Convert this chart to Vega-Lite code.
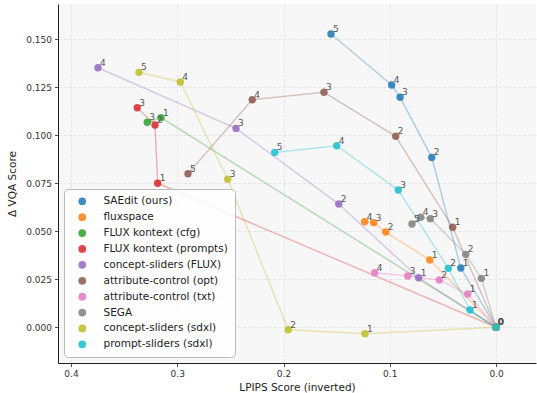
{
  "$schema": "https://vega.github.io/schema/vega-lite/v6.json",
  "autosize": {"type": "none"},
  "padding": {"left": 58, "top": 4, "right": 1, "bottom": 30},
  "width": 478,
  "height": 359,
  "background": "white",
  "config": {
    "font": "DejaVu Sans",
    "view": {"fill": "#f7f7f7", "stroke": null},
    "axis": {
      "grid": true, "gridColor": "#dddddd", "gridDash": [3, 2], "gridWidth": 0.8,
      "domainColor": "#222222", "domainWidth": 1,
      "tickColor": "#222222", "tickSize": 3.5, "tickWidth": 0.8,
      "labelColor": "#333333", "labelFontSize": 9, "labelFont": "DejaVu Sans",
      "titleColor": "#222222", "titleFontSize": 10.5, "titleFontWeight": "normal", "titleFont": "DejaVu Sans"
    },
    "legend": {
      "orient": "bottom-left", "offset": 6, "title": null,
      "fillColor": "rgba(255,255,255,0.85)", "strokeColor": "#bbbbbb", "cornerRadius": 4, "padding": 7,
      "labelFontSize": 10.5, "labelFont": "DejaVu Sans", "labelColor": "#222222",
      "symbolType": "circle", "symbolSize": 60, "symbolOpacity": 0.85, "symbolStrokeWidth": 0,
      "rowPadding": 4.9, "labelOffset": 16, "symbolOffset": 6
    }
  },
  "data": {"values": [
    {"method": "SAEdit (ours)", "step": 0, "lpips": 0.0, "vqa": 0.0},
    {"method": "SAEdit (ours)", "step": 1, "lpips": 0.0332, "vqa": 0.0309},
    {"method": "SAEdit (ours)", "step": 2, "lpips": 0.0605, "vqa": 0.0885},
    {"method": "SAEdit (ours)", "step": 3, "lpips": 0.0903, "vqa": 0.1198},
    {"method": "SAEdit (ours)", "step": 4, "lpips": 0.0982, "vqa": 0.1262},
    {"method": "SAEdit (ours)", "step": 5, "lpips": 0.1553, "vqa": 0.1528},
    {"method": "fluxspace", "step": 0, "lpips": 0.0, "vqa": 0.0},
    {"method": "fluxspace", "step": 1, "lpips": 0.0624, "vqa": 0.0351},
    {"method": "fluxspace", "step": 2, "lpips": 0.1038, "vqa": 0.0496},
    {"method": "fluxspace", "step": 3, "lpips": 0.1151, "vqa": 0.0545},
    {"method": "fluxspace", "step": 4, "lpips": 0.1236, "vqa": 0.0550},
    {"method": "FLUX kontext (cfg)", "step": 0, "lpips": 0.0, "vqa": 0.0},
    {"method": "FLUX kontext (cfg)", "step": 1, "lpips": 0.3153, "vqa": 0.1092},
    {"method": "FLUX kontext (cfg)", "step": 3, "lpips": 0.3282, "vqa": 0.1068},
    {"method": "FLUX kontext (prompts)", "step": 0, "lpips": 0.0, "vqa": 0.0},
    {"method": "FLUX kontext (prompts)", "step": 1, "lpips": 0.3184, "vqa": 0.0750},
    {"method": "FLUX kontext (prompts)", "step": 2, "lpips": 0.3209, "vqa": 0.1054},
    {"method": "FLUX kontext (prompts)", "step": 3, "lpips": 0.3376, "vqa": 0.1144},
    {"method": "concept-sliders (FLUX)", "step": 0, "lpips": 0.0, "vqa": 0.0},
    {"method": "concept-sliders (FLUX)", "step": 1, "lpips": 0.0728, "vqa": 0.0258},
    {"method": "concept-sliders (FLUX)", "step": 2, "lpips": 0.1480, "vqa": 0.0642},
    {"method": "concept-sliders (FLUX)", "step": 3, "lpips": 0.2447, "vqa": 0.1036},
    {"method": "concept-sliders (FLUX)", "step": 4, "lpips": 0.3746, "vqa": 0.1352},
    {"method": "attribute-control (opt)", "step": 0, "lpips": 0.0, "vqa": 0.0},
    {"method": "attribute-control (opt)", "step": 1, "lpips": 0.0408, "vqa": 0.0521},
    {"method": "attribute-control (opt)", "step": 2, "lpips": 0.0944, "vqa": 0.0995},
    {"method": "attribute-control (opt)", "step": 3, "lpips": 0.1619, "vqa": 0.1224},
    {"method": "attribute-control (opt)", "step": 4, "lpips": 0.2294, "vqa": 0.1185},
    {"method": "attribute-control (opt)", "step": 5, "lpips": 0.2899, "vqa": 0.0800},
    {"method": "attribute-control (txt)", "step": 0, "lpips": 0.0, "vqa": 0.0},
    {"method": "attribute-control (txt)", "step": 1, "lpips": 0.0266, "vqa": 0.0173},
    {"method": "attribute-control (txt)", "step": 2, "lpips": 0.0534, "vqa": 0.0246},
    {"method": "attribute-control (txt)", "step": 3, "lpips": 0.0831, "vqa": 0.0267},
    {"method": "attribute-control (txt)", "step": 4, "lpips": 0.1142, "vqa": 0.0284},
    {"method": "SEGA", "step": 0, "lpips": 0.0, "vqa": 0.0},
    {"method": "SEGA", "step": 1, "lpips": 0.0138, "vqa": 0.0255},
    {"method": "SEGA", "step": 2, "lpips": 0.0285, "vqa": 0.0380},
    {"method": "SEGA", "step": 3, "lpips": 0.0618, "vqa": 0.0566},
    {"method": "SEGA", "step": 4, "lpips": 0.0709, "vqa": 0.0573},
    {"method": "SEGA", "step": 5, "lpips": 0.0791, "vqa": 0.0538},
    {"method": "concept-sliders (sdxl)", "step": 0, "lpips": 0.0, "vqa": 0.0},
    {"method": "concept-sliders (sdxl)", "step": 1, "lpips": 0.1233, "vqa": -0.0033},
    {"method": "concept-sliders (sdxl)", "step": 2, "lpips": 0.1955, "vqa": -0.0013},
    {"method": "concept-sliders (sdxl)", "step": 3, "lpips": 0.2525, "vqa": 0.0771},
    {"method": "concept-sliders (sdxl)", "step": 4, "lpips": 0.2971, "vqa": 0.1278},
    {"method": "concept-sliders (sdxl)", "step": 5, "lpips": 0.3360, "vqa": 0.1328},
    {"method": "prompt-sliders (sdxl)", "step": 0, "lpips": 0.0, "vqa": 0.0},
    {"method": "prompt-sliders (sdxl)", "step": 1, "lpips": 0.0245, "vqa": 0.0090},
    {"method": "prompt-sliders (sdxl)", "step": 2, "lpips": 0.0449, "vqa": 0.0307},
    {"method": "prompt-sliders (sdxl)", "step": 3, "lpips": 0.0920, "vqa": 0.0715},
    {"method": "prompt-sliders (sdxl)", "step": 4, "lpips": 0.1499, "vqa": 0.0946},
    {"method": "prompt-sliders (sdxl)", "step": 5, "lpips": 0.2083, "vqa": 0.0911}
  ]},
  "encoding": {
    "x": {"field": "lpips", "type": "quantitative", "title": "LPIPS Score (inverted)",
      "scale": {"domain": [-0.0376, 0.4122], "reverse": true, "nice": false, "zero": false},
      "axis": {"values": [0.4, 0.3, 0.2, 0.1, 0.0], "format": ".1f", "labelPadding": 3, "titlePadding": 4}},
    "y": {"field": "vqa", "type": "quantitative", "title": "Δ VQA Score",
      "scale": {"domain": [-0.0186, 0.1684], "nice": false, "zero": false},
      "axis": {"values": [0, 0.025, 0.05, 0.075, 0.1, 0.125, 0.15], "format": ".3f", "labelPadding": 3, "titlePadding": 8}},
    "color": {"field": "method", "type": "nominal",
      "scale": {
        "domain": ["SAEdit (ours)", "fluxspace", "FLUX kontext (cfg)", "FLUX kontext (prompts)", "concept-sliders (FLUX)", "attribute-control (opt)", "attribute-control (txt)", "SEGA", "concept-sliders (sdxl)", "prompt-sliders (sdxl)"],
        "range": ["#1f77b4", "#ff7f0e", "#2ca02c", "#d62728", "#9467bd", "#8c564b", "#e377c2", "#7f7f7f", "#bcbd22", "#17becf"]
      }}
  },
  "layer": [
    {"mark": {"type": "line", "strokeWidth": 1.5, "opacity": 0.32},
     "encoding": {"order": {"field": "step", "type": "quantitative"}}},
    {"mark": {"type": "point", "filled": true, "size": 55, "opacity": 0.85}},
    {"mark": {"type": "text", "align": "left", "baseline": "alphabetic", "dx": 2, "dy": -2, "fontSize": 9, "color": "#555555"},
     "encoding": {"text": {"field": "step", "type": "quantitative"}, "color": {"value": "#555555"}}}
  ]
}
